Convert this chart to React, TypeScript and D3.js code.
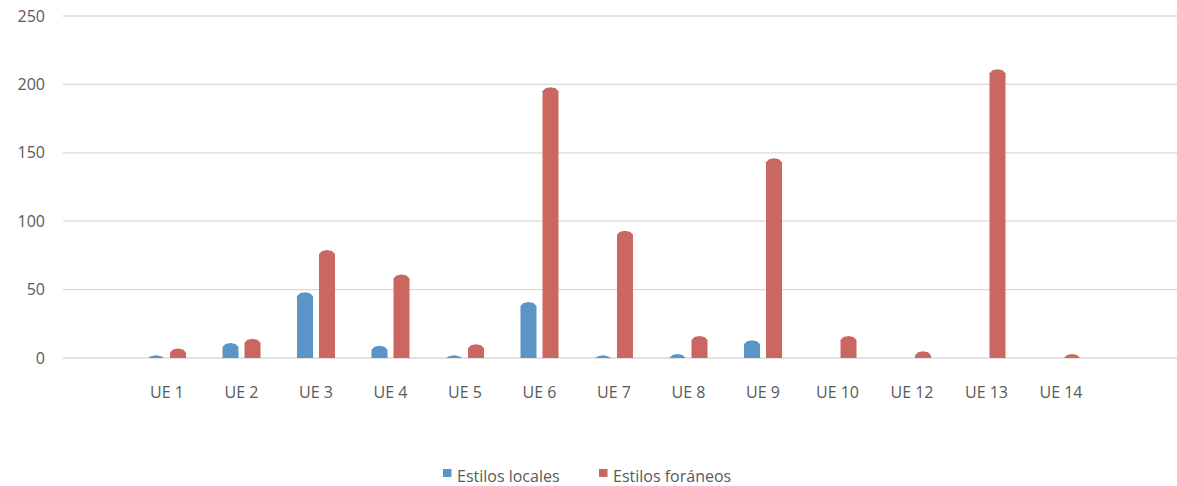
import React from "react";
import * as d3 from "d3";

const categories = ["UE 1", "UE 2", "UE 3", "UE 4", "UE 5", "UE 6", "UE 7", "UE 8", "UE 9", "UE 10", "UE 12", "UE 13", "UE 14"];
const locales = [2, 11, 48, 9, 2, 41, 2, 3, 13, 0, 0, 0, 0];
const foraneos = [7, 14, 79, 61, 10, 198, 93, 16, 146, 16, 5, 211, 3];
const yTicks = [0, 50, 100, 150, 200, 250];
const seriesNames = ["Estilos locales", "Estilos foráneos"];
const colors = ["#5b94c6", "#c96760"];

const W = 1177;
const H = 486;
const FONT = "'Open Sans', 'Noto Sans', sans-serif";

function barPath(x0: number, w: number, yTop: number, yBase: number): string {
  const h = yBase - yTop;
  if (h <= 0) return "";
  const bev = Math.min(4, h);
  const xc = x0 + w / 2;
  const x1 = x0 + w;
  return `M${x0},${yBase} L${x0},${yTop + bev} L${x0 + 3},${yTop + Math.min(1, h)} L${xc},${yTop} L${x1 - 3},${yTop + Math.min(1, h)} L${x1},${yTop + bev} L${x1},${yBase} Z`;
}

export default function App() {
  const y = d3.scaleLinear().domain([0, 250]).range([358, 16]);
  const x = d3.scaleBand<string>().domain(categories).range([129.75, 1098.25]);
  const barW = 16;
  const gap = 6;
  const series = [locales, foraneos];

  return (
    <svg width={W} height={H} style={{ position: "absolute", left: 0, top: 0, background: "#fff" }}>
      {yTicks.map((t) => (
        <g key={t}>
          <line x1={63} x2={1177} y1={y(t)} y2={y(t)} stroke="#d9d9d9" strokeWidth={1.3} />
          <text x={45} y={y(t)} dy="0.35em" textAnchor="end" fontFamily={FONT} fontSize={16} fill="#595959">
            {t}
          </text>
        </g>
      ))}
      {categories.map((c, i) => {
        const cx = (x(c) as number) + x.bandwidth() / 2;
        return (
          <g key={c}>
            {series.map((s, si) => {
              const x0 = si === 0 ? cx - gap / 2 - barW : cx + gap / 2;
              const v = s[i];
              if (!v) return null;
              return <path key={si} d={barPath(x0, barW, y(v), y(0))} fill={colors[si]} />;
            })}
            <text x={cx} y={398} textAnchor="middle" fontFamily={FONT} fontSize={16} fill="#595959">
              {c}
            </text>
          </g>
        );
      })}
      {seriesNames.map((n, i) => {
        const lx = i === 0 ? 443 : 599;
        return (
          <g key={n}>
            <rect x={lx} y={469} width={8.5} height={8} fill={colors[i]} />
            <text x={lx + 14} y={481.5} fontFamily={FONT} fontSize={16} fill="#595959">
              {n}
            </text>
          </g>
        );
      })}
    </svg>
  );
}
